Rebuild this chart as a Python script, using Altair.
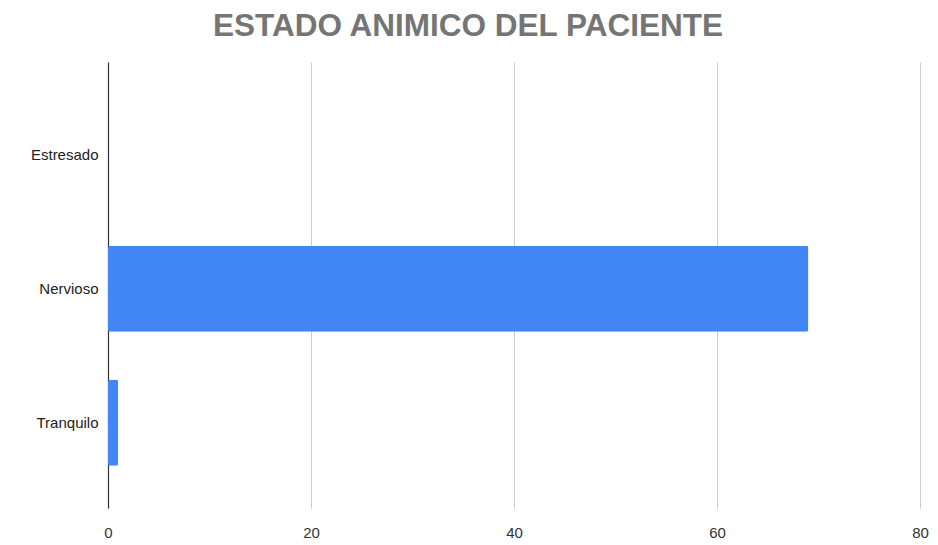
import altair as alt
import pandas as pd

categories = ["Estresado", "Nervioso", "Tranquilo"]
values = [0, 69, 1]

df = pd.DataFrame({"estado": categories, "valor": values})

chart = alt.Chart(df).mark_bar(color="#4285F4", cornerRadius=2).encode(
    y=alt.Y("estado:N", sort=categories,
            scale=alt.Scale(paddingInner=0.358, paddingOuter=0.343, align=0.54),
            axis=alt.Axis(title=None, labelFont="Liberation Sans", labelFontSize=15,
                          labelColor="#222222", ticks=False, domain=True,
                          domainColor="#333333", domainWidth=1.2, labelPadding=10,
                          grid=False)),
    x=alt.X("valor:Q", scale=alt.Scale(domain=[0, 80]),
            axis=alt.Axis(title=None, values=[0, 20, 40, 60, 80], labelFont="Liberation Sans",
                          labelFontSize=15, labelColor="#333333", ticks=False, domain=False,
                          labelFlush=False,
                          gridColor="#cccccc", gridWidth=1, labelPadding=17)),
).properties(
    width=812, height=446,
    title=alt.TitleParams("ESTADO ANIMICO DEL PACIENTE", font="Liberation Sans", fontSize=31.5,
                          fontWeight="bold", color="#757575", anchor="middle", dx=-46, offset=20),
    autosize=alt.AutoSizeParams(type="none"),
    padding={"left": 100, "top": 54, "right": 10, "bottom": 40},
).configure_view(stroke=None)

chart.save("out.html", embed_options={"renderer": "svg", "actions": False})
